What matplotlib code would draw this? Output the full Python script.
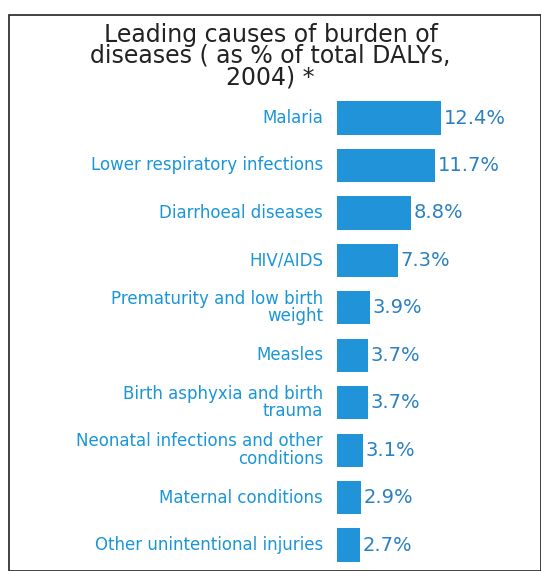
import matplotlib
matplotlib.use("Agg")
from matplotlib import pyplot as plt
from matplotlib.patches import Rectangle

# data
causes = ["Malaria", "Lower respiratory infections", "Diarrhoeal diseases", "HIV/AIDS",
          "Prematurity and low birth\nweight", "Measles", "Birth asphyxia and birth\ntrauma",
          "Neonatal infections and other\nconditions", "Maternal conditions",
          "Other unintentional injuries"]
shares = [12.4, 11.7, 8.8, 7.3, 3.9, 3.7, 3.7, 3.1, 2.9, 2.7]
value_labels = ["12.4%", "11.7%", "8.8%", "7.3%", "3.9%", "3.7%", "3.7%", "3.1%", "2.9%", "2.7%"]

W, H = 541, 571
fig = plt.figure(figsize=(W / 100, H / 100), dpi=100)
fig.patch.set_facecolor("white")

# frame around the figure
fig.patches.append(Rectangle((9 / W, 0), (W - 9) / W, (H - 15) / H, transform=fig.transFigure,
                             fill=False, edgecolor="#222222", linewidth=1.2))

ax = fig.add_axes([337 / W, 0, (W - 337) / W, (H - 95) / H])
ypos = list(range(len(causes)))
ax.barh(ypos, shares, height=0.7, color="#2193d8", left=0)
ax.set_xlim(0, (W - 337) / 8.4)
ax.set_ylim(9.548, -0.485)
ax.axis("off")

for y, v, lab, name in zip(ypos, shares, value_labels, causes):
    ax.text(v + 0.3, y, lab, va="center", ha="left", fontsize=14, color="#2a80c2")
    ax.annotate(name, xy=(0, y), xycoords="data", xytext=(-10, 0), textcoords="offset points",
                ha="right", va="center", multialignment="right", fontsize=12,
                color="#1a96d8", linespacing=0.95, annotation_clip=False)

fig.text(0.5, 1 - 56 / H, "Leading causes of burden of\ndiseases ( as % of total DALYs,\n2004) *",
         ha="center", va="center", fontsize=17, color="#222222", linespacing=0.85)

fig.savefig("out.png", dpi=100)
